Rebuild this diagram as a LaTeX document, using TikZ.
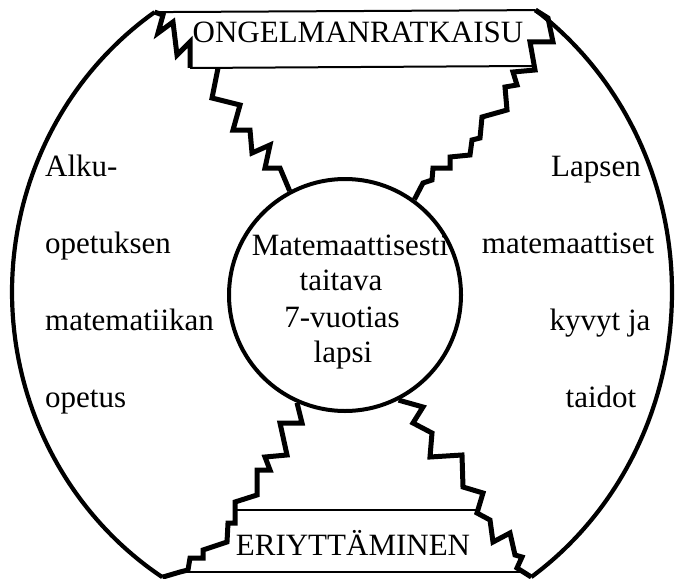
\documentclass[tikz,border=0pt]{standalone}
\usepackage{fontspec}
\setmainfont{Liberation Serif}
\begin{document}
\begin{tikzpicture}[x=1pt,y=-1pt,
  zig/.style={line width=5pt, line join=miter, line cap=butt},
  rim/.style={line width=4.2pt},
  thinline/.style={line width=2pt},
  lbl/.style={inner sep=0pt, font=\fontsize{31}{36}\selectfont, anchor=base}]
\useasboundingbox (0,0) rectangle (677,578);

% outer lens-shaped frame
\coordinate (arcTL) at (154.6,12.1);
\coordinate (arcBL) at (162.3,577.2);
\coordinate (arcTR) at (535.5,10.1);
\coordinate (arcBR) at (531.3,577);
\draw[rim] plot[domain=235.4:123, samples=90, variable=\t] ({342+330*cos(\t)},{292+340*sin(\t)});
\draw[rim] plot[domain=-54.1:55, samples=90, variable=\t] ({342+330*cos(\t)},{292+348*sin(\t)});

% texts
\node[lbl] (top) at (358,43) {ONGELMANRATKAISU};
\node[lbl] (bottom) at (353,555) {ERIYTTÄMINEN};

\node[lbl] (c1) at (350,255) {Matemaattisesti};
\node[lbl] (c2) at (341,290) {taitava};
\node[lbl] (c3) at (342,327) {7-vuotias};
\node[lbl] (c4) at (343,362) {lapsi};

\node[lbl, anchor=base west] (l1) at (45,176) {Alku-};
\node[lbl, anchor=base west] (l2) at (45,253) {opetuksen};
\node[lbl, anchor=base west] (l3) at (45,330) {matematiikan};
\node[lbl, anchor=base west] (l4) at (45,407) {opetus};

\node[lbl] (r1) at (596,176) {Lapsen};
\node[lbl] (r2) at (568,253) {matemaattiset};
\node[lbl] (r3) at (600,330) {kyvyt ja};
\node[lbl] (r4) at (601,407) {taidot};

% central circle
\node[draw, circle, line width=4pt, minimum size=232pt, inner sep=0pt] (child) at (345,295) {};

% top box
\coordinate (tbTL) at (190,68);
\coordinate (tbBR) at (532,66);
\draw[thinline] (arcTL) -- (arcTR);
\draw[thinline] (tbTL) -- (tbBR);
\draw[zig] (arcTL) -- (163,15) -- (158,33) -- (173,22) -- (177,55) -- (190,42) -- (tbTL);
% top-left zigzag
\draw[zig] (tbTL) ++(28,0) coordinate (tlA) (tlA) -- (212,98) -- (240,105) -- (233,130) -- (250,130) -- (252,153) -- (270,145) -- (265,168) -- (280,168) -- (child.118);
% top-right zigzag
\draw[zig] (arcTR) -- (548,18) -- (553,42) -- (530,42) -- (535,70) -- (513,72) -- (517,85) -- (505,87) -- (507,110) -- (482,117) -- (480,138) -- (472,140) -- (470,155) -- (450,157) -- (450,168) -- (433,168) -- (432,180) -- (423,183) -- (child.54);

% bottom box
\coordinate (bbTL) at (235,510);
\coordinate (bbTR) at (477,510);
\coordinate (bbBL) at (180,572);
\coordinate (bbBR) at (520,572);
\draw[thinline] (bbTL) -- (bbTR);
\draw[thinline] (bbBL) -- (bbBR);
% bottom-left zigzag
\draw[zig] (child.246) -- (302,423) -- (280,423) -- (287,455) -- (265,457) -- (270,470) -- (257,470) -- (257,495) -- (235,502) -- (235,523) -- (228,523) -- (227,542) -- (203,550) -- (203,558) -- (190,558) -- (188,570) -- (bbBL) -- (arcBL);
% bottom-right zigzag
\draw[zig] (child.297) -- (423,407) -- (413,423) -- (432,433) -- (430,457) -- (462,455) -- (463,487) -- (483,493) -- (477,513) -- (490,520) -- (493,542) -- (510,533) -- (515,555) -- (522,557) -- (517,568) -- (arcBR);
\end{tikzpicture}
\end{document}
